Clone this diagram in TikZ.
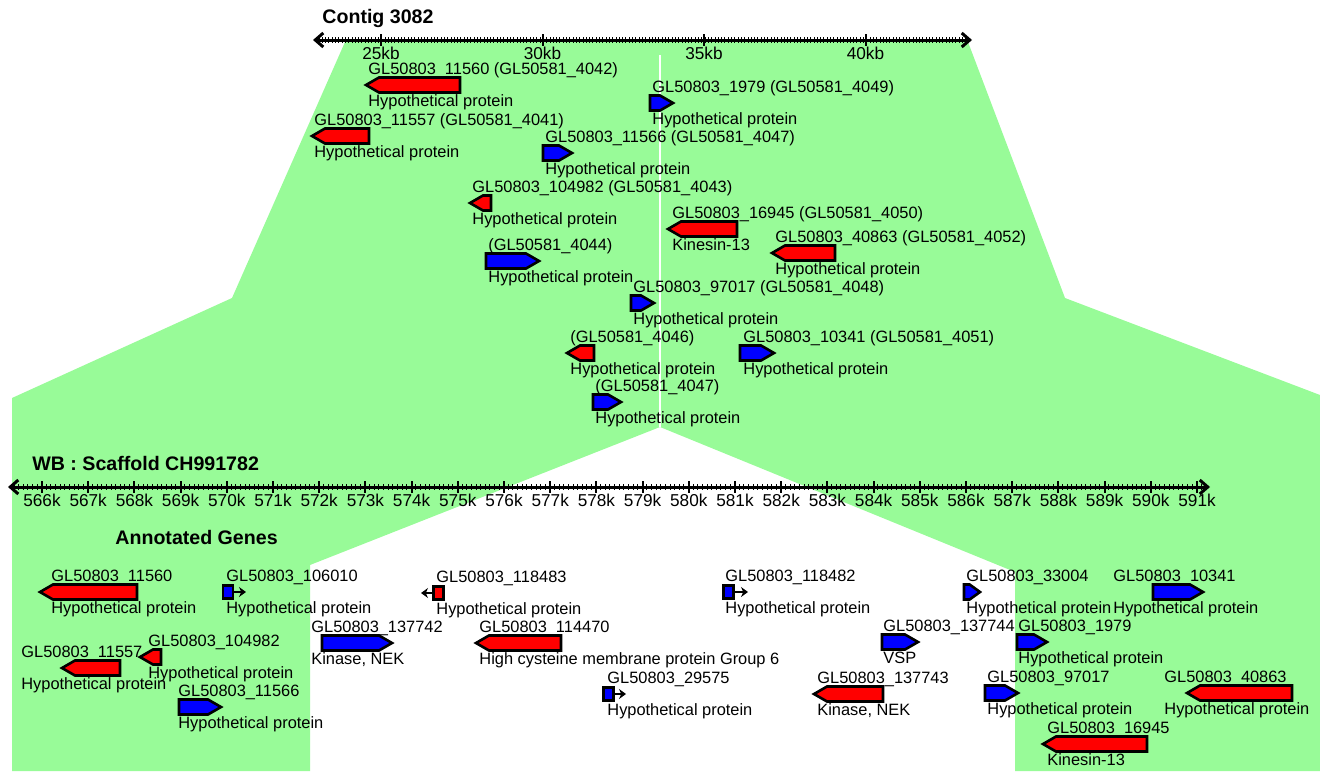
\documentclass[tikz,border=0pt]{standalone}
\usepackage{fontspec}
\setmainfont{Liberation Sans}
\usetikzlibrary{arrows.meta}
\definecolor{synteny}{RGB}{152,251,152}

\begin{document}
\begin{tikzpicture}[x=0.5pt,y=-0.5pt,>={Straight Barb[length=4pt,width=7pt]}]
	\tikzset{every node/.style={inner sep=0pt,font=\fontsize{8.2}{9}\selectfont}}
	\tikzset{title/.style={anchor=base west,font=\fontsize{9.8}{11}\selectfont\bfseries}}
	\tikzset{lbl/.style={anchor=base west}}
	\tikzset{ticklbl/.style={anchor=base,font=\fontsize{8.6}{9}\selectfont}}
	\tikzset{genebox/.style={draw,line width=1.3pt,line join=miter}}
	\tikzset{stub/.style={draw,line width=1.3pt,minimum width=5pt,minimum height=6.5pt}}
	\tikzset{pointer/.style={line width=1.4pt,-{Stealth[length=3.5pt,width=5pt]}}}
	\tikzset{axis/.style={line width=1.5pt,<->}}
	\useasboundingbox (0,0) rectangle (1320,771);

	% synteny block
	\fill[synteny] (345,42) -- (968,42) -- (1065,298) -- (1320,395) -- (1320,771) -- (1015,771)
		-- (1015,572) -- (660,427) -- (310,565) -- (310,771) -- (12,771) -- (12,398) -- (232,298) -- cycle;
	\draw[white,line width=1pt] (660,55) -- (660,427);

	% contig
	\node[title] (contig) at (322,24) {Contig 3082};
	\coordinate (cl) at (313,40);
	\coordinate (cr) at (972,40);
	\draw[axis] (cl) -- (cr);
	\foreach \mx in {319,322.3,...,966}
		\draw[line width=0.5pt] (\mx,37) -- (\mx,43);
	\foreach \k in {25,30,35,40} {
		\draw[line width=1pt] ({381+(\k-25)*32.3},34) -- ({381+(\k-25)*32.3},46);
		\node[ticklbl] (kb\k) at ({381+(\k-25)*32.3},59) {\k kb};
	}

	% scaffold
	\node[title] (scaffold) at (32,470) {WB : Scaffold CH991782};
	\coordinate (sl) at (8,487);
	\coordinate (sr) at (1210,487);
	\draw[axis] (sl) -- (sr);
	\foreach \mx in {14,18.62,...,1204}
		\draw[line width=0.5pt] (\mx,484) -- (\mx,490);
	\foreach \k [count=\i from 0] in {566,...,591} {
		\draw[line width=1pt] ({42+\i*46.2},481) -- ({42+\i*46.2},493);
		\node[ticklbl] (k\k) at ({42+\i*46.2},506) {\k k};
	}
	\node[title] (annot) at (115,544) {Annotated Genes};

	% forward genes
	\foreach \xa/\xb/\y/\lx/\gname/\gdesc [count=\i] in {
		650/673/103/652/{GL50803\_1979 (GL50581\_4049)}/{Hypothetical protein},
		543/572/153/545/{GL50803\_11566 (GL50581\_4047)}/{Hypothetical protein},
		486/539/261/488/{(GL50581\_4044)}/{Hypothetical protein},
		631/654/303/633/{GL50803\_97017 (GL50581\_4048)}/{Hypothetical protein},
		740/774/353/743/{GL50803\_10341 (GL50581\_4051)}/{Hypothetical protein},
		593/621/402/595/{(GL50581\_4047)}/{Hypothetical protein},
		322/392/643/311/{GL50803\_137742}/{Kinase, NEK},
		179/221/707/178/{GL50803\_11566}/{Hypothetical protein},
		882/918/642/883/{GL50803\_137744}/{VSP},
		964/980/592/966/{GL50803\_33004}/{Hypothetical protein},
		1153/1203/592/1113/{GL50803\_10341}/{Hypothetical protein},
		1017/1047/642/1018/{GL50803\_1979}/{Hypothetical protein},
		985/1018/693/987/{GL50803\_97017}/{Hypothetical protein}} {
		\pgfmathsetmacro{\tip}{min(13,0.65*(\xb-\xa))}
		\draw[genebox,fill=blue] (\xa,\y-7.5) -- (\xb-\tip,\y-7.5) -- (\xb,\y) -- (\xb-\tip,\y+7.5) -- (\xa,\y+7.5) -- cycle;
		\node[lbl] (fname\i) at (\lx,\y-10.5) {\gname};
		\node[lbl] (fdesc\i) at (\lx,\y+21) {\gdesc};
	}

	% reverse genes
	\foreach \xa/\xb/\y/\lx/\gname/\gdesc [count=\i] in {
		366/460/85/368/{GL50803\_11560 (GL50581\_4042)}/{Hypothetical protein},
		312/369/136/314/{GL50803\_11557 (GL50581\_4041)}/{Hypothetical protein},
		470/491/203/472/{GL50803\_104982 (GL50581\_4043)}/{Hypothetical protein},
		668/737/229/672/{GL50803\_16945 (GL50581\_4050)}/{Kinesin-13},
		772/835/253/775/{GL50803\_40863 (GL50581\_4052)}/{Hypothetical protein},
		567/594/353/570/{(GL50581\_4046)}/{Hypothetical protein},
		40/137/592/51/{GL50803\_11560}/{Hypothetical protein},
		62/120/668/21/{GL50803\_11557}/{Hypothetical protein},
		140/161/657/148/{GL50803\_104982}/{Hypothetical protein},
		476/561/643/479/{GL50803\_114470}/{High cysteine membrane protein Group 6},
		814/883/694/817/{GL50803\_137743}/{Kinase, NEK},
		1187/1292/693/1164/{GL50803\_40863}/{Hypothetical protein},
		1043/1147/744/1047/{GL50803\_16945}/{Kinesin-13}} {
		\pgfmathsetmacro{\tip}{min(13,0.65*(\xb-\xa))}
		\draw[genebox,fill=red] (\xb,\y-7.5) -- (\xa+\tip,\y-7.5) -- (\xa,\y) -- (\xa+\tip,\y+7.5) -- (\xb,\y+7.5) -- cycle;
		\node[lbl] (rname\i) at (\lx,\y-10.5) {\gname};
		\node[lbl] (rdesc\i) at (\lx,\y+21) {\gdesc};
	}

	% short genes
	\foreach \bx/\by/\ex/\c/\lx/\gname [count=\i] in {
		228/592/246/blue/226/{GL50803\_106010},
		438.5/593/421/red/436/{GL50803\_118483},
		728.5/592/748/blue/725/{GL50803\_118482},
		608.5/694/626/blue/607/{GL50803\_29575}} {
		\node[stub,fill=\c] (stub\i) at (\bx,\by) {};
		\coordinate (end\i) at (\ex,\by);
		\draw[pointer] (stub\i) -- (end\i);
		\node[lbl] (sname\i) at (\lx,\by-10.5) {\gname};
		\node[lbl] (sdesc\i) at (\lx,\by+21) {Hypothetical protein};
	}
\end{tikzpicture}
\end{document}
